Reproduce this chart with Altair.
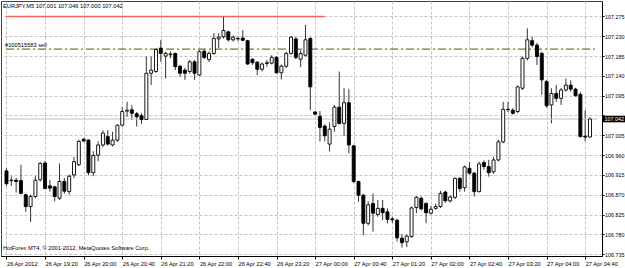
import altair as alt
import pandas as pd

# EURJPY M5 candles, bar 0 = 26 Apr 18:40 ... bar 121 = 27 Apr 04:45
opens = [106.924, 106.903, 106.903, 106.902, 106.870, 106.843, 106.866, 106.904, 106.942, 106.890,
         106.888, 106.862, 106.900, 106.877, 106.915, 106.938, 106.996, 106.994, 106.920, 106.960,
         106.983, 107.002, 106.983, 106.994, 107.028, 107.060, 107.063, 107.054, 107.050, 107.041,
         107.146, 107.150, 107.203, 107.185, 107.188, 107.191, 107.162, 107.153, 107.150, 107.172,
         107.142, 107.196, 107.177, 107.191, 107.224, 107.229, 107.240, 107.222, 107.225, 107.226,
         107.220, 107.178, 107.171, 107.155, 107.168, 107.169, 107.182, 107.147, 107.162, 107.191,
         107.224, 107.178, 107.187, 107.225, 107.058, 107.048, 107.026, 106.985, 107.025, 107.069,
         107.032, 107.079, 106.981, 106.900, 106.869, 106.805, 106.850, 106.825, 106.839, 106.831,
         106.815, 106.812, 106.771, 106.763, 106.775, 106.841, 106.862, 106.850, 106.828, 106.839,
         106.843, 106.876, 106.856, 106.864, 106.907, 106.886, 106.930, 106.919, 106.877, 106.943,
         106.934, 106.922, 106.949, 106.990, 107.064, 107.062, 107.059, 107.112, 107.180, 107.220,
         107.210, 107.191, 107.127, 107.074, 107.100, 107.089, 107.108, 107.119, 107.110, 107.098,
         107.003, 107.001]
highs = [106.930, 106.912, 106.908, 106.938, 106.872, 106.870, 106.913, 106.944, 106.947, 106.903,
         106.890, 106.941, 106.908, 106.916, 106.956, 106.995, 106.999, 106.996, 106.969, 106.991,
         107.016, 107.017, 107.013, 107.030, 107.069, 107.081, 107.074, 107.058, 107.055, 107.184,
         107.184, 107.203, 107.222, 107.195, 107.196, 107.193, 107.165, 107.158, 107.176, 107.176,
         107.199, 107.200, 107.196, 107.237, 107.237, 107.275, 107.243, 107.232, 107.230, 107.244,
         107.222, 107.180, 107.174, 107.170, 107.176, 107.187, 107.185, 107.166, 107.195, 107.230,
         107.228, 107.198, 107.256, 107.228, 107.060, 107.060, 107.030, 107.034, 107.074, 107.150,
         107.112, 107.110, 106.983, 106.902, 106.872, 106.855, 106.873, 106.858, 106.858, 106.839,
         106.820, 106.815, 106.780, 106.779, 106.843, 106.867, 106.866, 106.853, 106.845, 106.850,
         106.879, 106.879, 106.868, 106.909, 106.910, 106.936, 106.944, 106.922, 106.945, 106.948,
         106.949, 106.956, 106.995, 107.081, 107.081, 107.067, 107.118, 107.184, 107.248, 107.229,
         107.215, 107.195, 107.131, 107.112, 107.119, 107.113, 107.134, 107.130, 107.113, 107.103,
         107.062, 107.046]
lows = [106.890, 106.890, 106.875, 106.872, 106.831, 106.808, 106.862, 106.900, 106.882, 106.877,
        106.855, 106.858, 106.872, 106.870, 106.908, 106.935, 106.990, 106.914, 106.912, 106.946,
        106.978, 106.982, 106.980, 106.990, 107.025, 107.047, 107.040, 107.025, 107.031, 107.040,
        107.119, 107.147, 107.172, 107.134, 107.180, 107.153, 107.138, 107.131, 107.145, 107.131,
        107.140, 107.178, 107.172, 107.188, 107.203, 107.225, 107.218, 107.218, 107.219, 107.219,
        107.165, 107.165, 107.142, 107.150, 107.161, 107.166, 107.145, 107.132, 107.158, 107.188,
        107.178, 107.160, 107.184, 107.062, 107.052, 106.991, 106.991, 106.968, 107.013, 107.030,
        107.003, 106.964, 106.896, 106.854, 106.778, 106.800, 106.786, 106.820, 106.812, 106.805,
        106.806, 106.764, 106.750, 106.751, 106.772, 106.828, 106.834, 106.805, 106.825, 106.836,
        106.840, 106.852, 106.852, 106.860, 106.877, 106.877, 106.915, 106.866, 106.875, 106.927,
        106.911, 106.918, 106.946, 106.987, 107.058, 107.052, 107.056, 107.108, 107.175, 107.205,
        107.165, 107.097, 107.068, 107.032, 107.081, 107.074, 107.104, 107.104, 107.093, 107.000,
        106.991, 107.000]
closes = [106.895, 106.902, 106.900, 106.873, 106.843, 106.866, 106.903, 106.941, 106.884, 106.885,
          106.866, 106.900, 106.878, 106.912, 106.945, 106.991, 106.992, 106.920, 106.959, 106.983,
          107.010, 106.985, 106.994, 107.028, 107.059, 107.062, 107.055, 107.047, 107.041, 107.146,
          107.153, 107.200, 107.191, 107.191, 107.190, 107.161, 107.146, 107.146, 107.172, 107.146,
          107.195, 107.182, 107.191, 107.225, 107.228, 107.243, 107.222, 107.228, 107.224, 107.221,
          107.167, 107.170, 107.155, 107.167, 107.170, 107.182, 107.147, 107.162, 107.191, 107.228,
          107.182, 107.191, 107.222, 107.115, 107.053, 107.023, 107.004, 107.019, 107.069, 107.032,
          107.079, 106.983, 106.900, 106.869, 106.805, 106.847, 106.828, 106.839, 106.829, 106.814,
          106.813, 106.772, 106.761, 106.776, 106.840, 106.864, 106.838, 106.829, 106.837, 106.843,
          106.873, 106.856, 106.865, 106.907, 106.884, 106.933, 106.919, 106.877, 106.940, 106.934,
          106.920, 106.949, 106.990, 107.064, 107.063, 107.055, 107.115, 107.180, 107.222, 107.210,
          107.184, 107.131, 107.072, 107.100, 107.089, 107.108, 107.119, 107.110, 107.095, 107.002,
          107.001, 107.042]

time_labels = ["26 Apr 2012", "26 Apr 19:20", "26 Apr 20:00", "26 Apr 20:40", "26 Apr 21:20",
               "26 Apr 22:00", "26 Apr 22:40", "26 Apr 23:20", "27 Apr 00:00", "27 Apr 00:40",
               "27 Apr 01:20", "27 Apr 02:00", "27 Apr 02:40", "27 Apr 03:20", "27 Apr 04:00",
               "27 Apr 04:40"]
label_bars = [0, 8, 16, 24, 32, 40, 48, 56, 64, 72, 80, 88, 96, 104, 112, 120]
price_ticks = [106.735, 106.780, 106.825, 106.870, 106.915, 106.960, 107.005, 107.050,
               107.095, 107.140, 107.185, 107.230, 107.275]

title_text = "EURJPY,M5  107.001 107.046 107.000 107.042"
order_text = "#100515583 sell"
copyright_text = "HotForex MT4, \u00a9 2001-2012, MetaQuotes Software Corp."
stop_level = 107.275
stop_end_bar = 66
sell_level = 107.201
last_price = 107.042

FONT = "Liberation Sans"
FS = 5.7
FSY = 5.4

df = pd.DataFrame({"i": list(range(len(opens))), "open": opens, "high": highs,
                   "low": lows, "close": closes})
df["dir"] = ["up" if c >= o else "down" for o, c in zip(opens, closes)]

xs = alt.Scale(domain=[-0.1, 122.45], nice=False, zero=False)
ys = alt.Scale(domain=[106.7307, 107.3102], nice=False, zero=False)

label_expr = "[" + ",".join("'%s'" % t for t in time_labels) + "][round(datum.value/8)]"
# the price label under the current-price box is hidden, as in the terminal
y_label_expr = "abs(datum.value - %s) < 0.01 ? '' : format(datum.value, '.3f')" % last_price

x_axis = alt.Axis(values=label_bars, labelExpr=label_expr, title=None, orient="bottom",
                  labelAlign="left", labelFlush=False, labelOverlap=False, labelPadding=1,
                  tickSize=3, labelFont=FONT, labelFontSize=FS, labelColor="black",
                  domainColor="black", tickColor="black", grid=True, gridDash=[3, 2],
                  gridColor="#c4c4c4", labelBound=False)
y_axis = alt.Axis(values=price_ticks, labelExpr=y_label_expr, title=None, orient="right",
                  labelAlign="left", labelBaseline="middle", labelFlush=False,
                  labelOverlap=False, labelPadding=0.5, labelBound=False,
                  tickSize=2, labelFont=FONT, labelFontSize=FSY, labelColor="black",
                  domainColor="black", tickColor="black", grid=True, gridDash=[3, 2],
                  gridColor="#c4c4c4")


def X(field):
    return alt.X(field, scale=xs, axis=x_axis)


def Y(field):
    return alt.Y(field, scale=ys, axis=y_axis)


base = alt.Chart(df)

wicks = base.mark_rule(color="#333333", strokeWidth=1).encode(
    x=X("i:Q"), y=Y("low:Q"), y2="high:Q")
bodies = base.mark_bar(size=3, stroke="black", strokeWidth=0.9).encode(
    x=X("i:Q"), y=Y("open:Q"), y2="close:Q",
    fill=alt.Fill("dir:N", scale=alt.Scale(domain=["up", "down"], range=["white", "black"]),
                  legend=None),
)

cur_df = pd.DataFrame({"x0": [-0.1], "x1": [122.45], "p": [last_price]})
cur_line = alt.Chart(cur_df).mark_rule(color="#c0c0c0", strokeWidth=1).encode(
    x=X("x0:Q"), x2="x1:Q", y=Y("p:Q"))

stop_df = pd.DataFrame({"x0": [-0.1], "x1": [stop_end_bar], "p": [stop_level]})
stop_line = alt.Chart(stop_df).mark_rule(color="#f26464", strokeWidth=1.5).encode(
    x=X("x0:Q"), x2="x1:Q", y=Y("p:Q"))

sell_df = pd.DataFrame({"x0": [-0.1], "x1": [122.1], "p": [sell_level]})
sell_line = alt.Chart(sell_df).mark_rule(color="#4f8a2a", strokeWidth=1.2,
                                         strokeDash=[8, 3, 2, 3]).encode(
    x=X("x0:Q"), x2="x1:Q", y=Y("p:Q"))

sell_label = alt.Chart(pd.DataFrame({"t": [order_text], "p": [sell_level]})).mark_text(
    align="left", baseline="alphabetic", font=FONT, fontSize=FS, color="black", dy=-2
).encode(x=alt.value(4), y=Y("p:Q"), text="t:N")

title = alt.Chart(pd.DataFrame({"t": [title_text]})).mark_text(
    align="left", baseline="middle", font=FONT, fontSize=FS, color="black"
).encode(x=alt.value(2), y=alt.value(4.5), text="t:N")

copyright_mark = alt.Chart(pd.DataFrame({"t": [copyright_text]})).mark_text(
    align="left", baseline="middle", font=FONT, fontSize=FS, color="black"
).encode(x=alt.value(2), y=alt.value(247), text="t:N")

box_df = pd.DataFrame({"p": [last_price], "t": ["%.3f" % last_price]})
box_df["top"] = box_df["p"] + 0.0075
box_df["bot"] = box_df["p"] - 0.0075
price_box = alt.Chart(box_df).mark_rect(color="black").encode(
    x=alt.value(602), x2=alt.value(625), y=Y("top:Q"), y2="bot:Q")
price_text = alt.Chart(box_df).mark_text(
    align="left", baseline="middle", font=FONT, fontSize=FSY, color="white"
).encode(x=alt.value(603.5), y=Y("p:Q"), text="t:N")

chart = alt.layer(
    wicks, cur_line, stop_line, sell_line, bodies, sell_label, title, copyright_mark,
    price_box, price_text
).properties(
    width=601, height=255,
    padding={"left": 1, "top": 1, "right": 23, "bottom": 12},
    autosize=alt.AutoSizeParams(type="none"),
    background="white",
).configure_view(stroke="#404040", strokeWidth=1).configure_axis(labelOverlap=False)

chart.save("out.html", embed_options={"renderer": "svg", "actions": False})
